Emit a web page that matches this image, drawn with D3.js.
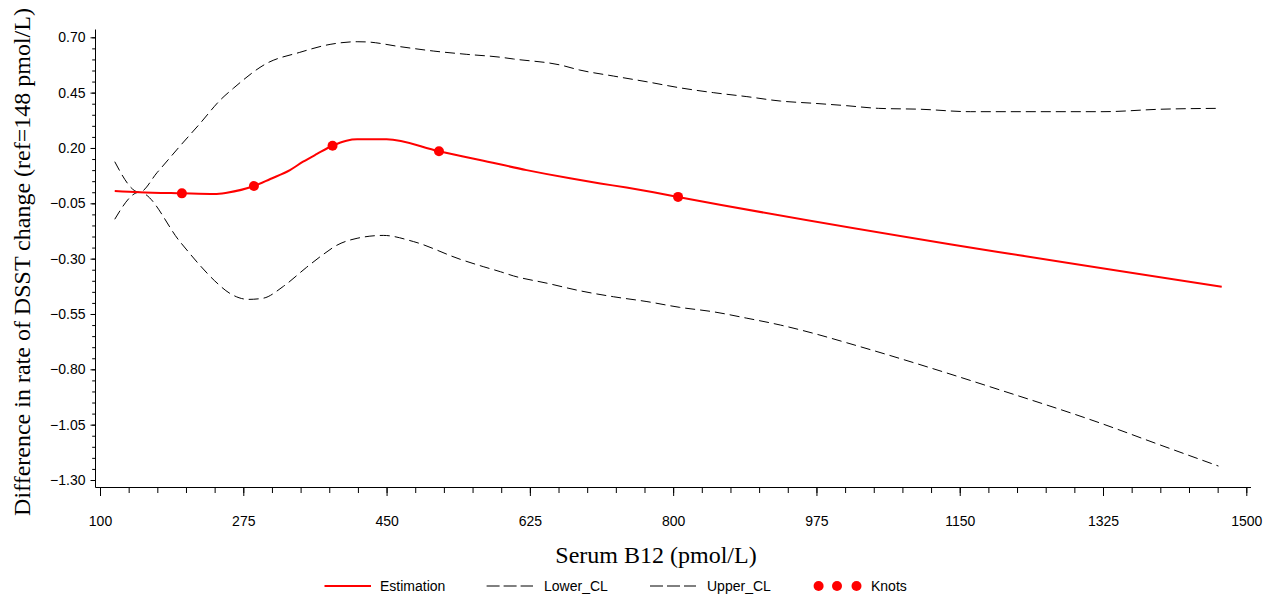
<!DOCTYPE html>
<html>
<head>
<meta charset="utf-8">
<script src="https://cdn.jsdelivr.net/npm/d3@7"></script>
<style>
  body { margin: 0; background: #fff; }
  svg { display: block; }
</style>
</head>
<body>
<div id="chart"></div>
<script>
// Data (serum B12 in pmol/L, difference in rate)
const xTicks = [100, 275, 450, 625, 800, 975, 1150, 1325, 1500];
const yTicks = [0.70, 0.45, 0.20, -0.05, -0.30, -0.55, -0.80, -1.05, -1.30];

const estimation = [
  [118, 0.006], [148, 0.0], [200, -0.005], [240, -0.008], [255, -0.002],
  [288, 0.028], [308, 0.060], [332, 0.100], [348, 0.138], [365, 0.173],
  [384, 0.210], [401, 0.233], [414, 0.239], [450, 0.239], [514, 0.185],
  [564, 0.146], [621, 0.100], [674, 0.063], [711, 0.040], [743, 0.021],
  [776, 0.000], [806, -0.021], [1470, -0.427]
];

const upperCL = [
  [118, 0.138], [148, 0.0], [170, 0.09], [198, 0.21], [222, 0.31],
  [247, 0.417], [263, 0.470], [304, 0.583], [344, 0.632], [381, 0.668],
  [414, 0.680], [426, 0.679], [466, 0.658], [507, 0.638], [548, 0.623],
  [589, 0.610], [605, 0.602], [662, 0.575], [686, 0.552], [727, 0.525],
  [768, 0.499], [808, 0.472], [849, 0.450], [890, 0.432], [931, 0.412],
  [971, 0.402], [1012, 0.391], [1051, 0.379], [1102, 0.375], [1163, 0.364],
  [1325, 0.364], [1395, 0.375], [1466, 0.379]
];

const lowerCL = [
  [118, -0.122], [148, 0.0], [198, -0.225], [222, -0.33], [240, -0.40],
  [260, -0.46], [281, -0.484], [299, -0.479], [324, -0.425], [352, -0.34],
  [373, -0.28], [389, -0.24], [414, -0.208], [446, -0.195], [483, -0.223],
  [540, -0.303], [568, -0.336], [589, -0.359], [605, -0.378], [646, -0.411],
  [686, -0.445], [727, -0.472], [768, -0.494], [808, -0.520], [849, -0.540],
  [890, -0.569], [931, -0.600], [971, -0.637], [1012, -0.680], [1049, -0.720],
  [1199, -0.893], [1321, -1.042], [1395, -1.142], [1466, -1.237]
];

const knotsX = [200, 288, 384, 514, 806];
const knotsY = [-0.005, 0.028, 0.210, 0.185, -0.021];

const legendLabels = ['Estimation', 'Lower_CL', 'Upper_CL', 'Knots'];

const width = 1272;
const height = 595;
const plot = { left: 95.5, right: 1251, top: 29.5, bottom: 487.5 };

const svg = d3.select('#chart')
  .append('svg')
  .attr('width', width)
  .attr('height', height)
  .style('background', '#ffffff');

const x = d3.scaleLinear().domain([100, 1500]).range([100, 1246.3]);
const y = d3.scaleLinear().domain([0.70, -1.30]).range([37.3, 480]);

const tickFont = '"Liberation Sans", Arial, sans-serif';
const titleFont = '"Liberation Serif", "Times New Roman", serif';

// Axis frame (left + bottom only)
svg.append('path')
  .attr('d', `M${plot.left},${plot.top}V${plot.bottom}H${plot.right}`)
  .attr('fill', 'none')
  .attr('stroke', '#000')
  .attr('stroke-width', 1);

// Y axis: minor ticks every 0.05, major every 0.25
const yMinor = d3.range(-1.30, 0.7001, 0.05).map(v => +v.toFixed(2));
const yMinorAxis = svg.append('g')
  .attr('transform', `translate(${plot.left},0)`)
  .call(d3.axisLeft(y).tickValues(yMinor).tickSize(3.3).tickFormat(''));
yMinorAxis.select('.domain').remove();

const yAxis = svg.append('g')
  .attr('transform', `translate(${plot.left},0)`)
  .call(d3.axisLeft(y).tickValues(yTicks).tickSize(5).tickPadding(5)
    .tickFormat(d3.format('.2f')));
yAxis.select('.domain').remove();
yAxis.selectAll('text')
  .attr('font-family', tickFont)
  .attr('font-size', '14px')
  .attr('fill', '#000');

// X axis: minor ticks every 35, major every 175
const xMinor = d3.range(100, 1501, 35);
const xMinorAxis = svg.append('g')
  .attr('transform', `translate(0,${plot.bottom + 0.5})`)
  .call(d3.axisBottom(x).tickValues(xMinor).tickSize(5).tickFormat(''));
xMinorAxis.select('.domain').remove();

const xAxis = svg.append('g')
  .attr('transform', `translate(0,${plot.bottom + 0.5})`)
  .call(d3.axisBottom(x).tickValues(xTicks).tickSize(8).tickPadding(20)
    .tickFormat(d3.format('d')));
xAxis.select('.domain').remove();
xAxis.selectAll('text')
  .attr('font-family', tickFont)
  .attr('font-size', '14px')
  .attr('fill', '#000');

svg.selectAll('.tick line').attr('stroke', '#000');

// Axis titles
svg.append('text')
  .attr('x', 656)
  .attr('y', 563)
  .attr('text-anchor', 'middle')
  .attr('font-family', titleFont)
  .attr('font-size', '24px')
  .text('Serum B12 (pmol/L)');

svg.append('text')
  .attr('transform', 'translate(30,262) rotate(-90)')
  .attr('text-anchor', 'middle')
  .attr('font-family', titleFont)
  .attr('font-size', '24px')
  .text('Difference in rate of DSST change (ref=148 pmol/L)');

// Curves
const line = d3.line()
  .x(d => x(d[0]))
  .y(d => y(d[1]))
  .curve(d3.curveMonotoneX);

svg.append('path')
  .datum(lowerCL)
  .attr('d', line)
  .attr('fill', 'none')
  .attr('stroke', '#000')
  .attr('stroke-width', 1)
  .attr('stroke-dasharray', '10,5');

svg.append('path')
  .datum(upperCL)
  .attr('d', line)
  .attr('fill', 'none')
  .attr('stroke', '#000')
  .attr('stroke-width', 1)
  .attr('stroke-dasharray', '10,5');

svg.append('path')
  .datum(estimation)
  .attr('d', line)
  .attr('fill', 'none')
  .attr('stroke', '#ff0000')
  .attr('stroke-width', 2);

svg.append('g')
  .selectAll('circle')
  .data(knotsX.map((k, i) => [k, knotsY[i]]))
  .join('circle')
  .attr('cx', d => x(d[0]))
  .attr('cy', d => y(d[1]))
  .attr('r', 5)
  .attr('fill', '#ff0000');

// Legend
const legendY = 586;
const legend = svg.append('g')
  .attr('font-family', tickFont)
  .attr('font-size', '14px');

legend.append('line')
  .attr('x1', 324.5).attr('x2', 371)
  .attr('y1', legendY).attr('y2', legendY)
  .attr('stroke', '#ff0000').attr('stroke-width', 2);

[[486.6, 533], [650, 696]].forEach(([a, b]) => {
  legend.append('line')
    .attr('x1', a).attr('x2', b)
    .attr('y1', legendY).attr('y2', legendY)
    .attr('stroke', '#000').attr('stroke-width', 1)
    .attr('stroke-dasharray', '13,4');
});

legend.selectAll('circle')
  .data([818.6, 837, 856.5])
  .join('circle')
  .attr('cx', d => d)
  .attr('cy', legendY)
  .attr('r', 5)
  .attr('fill', '#ff0000');

legend.selectAll('text')
  .data(legendLabels.map((t, i) => ({ t, x: [380, 544, 707, 871][i] })))
  .join('text')
  .attr('x', d => d.x)
  .attr('y', legendY)
  .attr('dy', '0.35em')
  .attr('fill', '#000')
  .text(d => d.t);
</script>
</body>
</html>
